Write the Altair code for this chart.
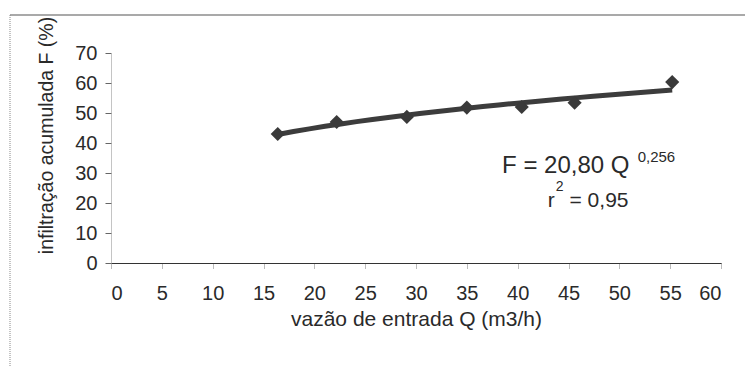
import altair as alt
import pandas as pd

# data
vazao_q = [16.4, 22.2, 29.1, 35.0, 40.4, 45.6, 55.2]
infiltracao_f = [43.0, 47.0, 48.7, 51.8, 52.0, 53.4, 60.3]

x_ticks = list(range(0, 61, 5))
y_ticks = list(range(0, 71, 10))

df = pd.DataFrame({"Q": vazao_q, "F": infiltracao_f})

FONT = "Liberation Sans"
TXT = "#2a2a2a"

x_scale = alt.Scale(domain=[0, 60], nice=False, zero=True)
y_scale = alt.Scale(domain=[0, 70], nice=False)

x_axis = alt.Axis(values=x_ticks, title="vazão de entrada Q (m3/h)",
                  grid=False, labelFontSize=20, titleFontSize=21,
                  labelFont=FONT, titleFont=FONT, labelColor=TXT,
                  titleColor=TXT, titleFontWeight="normal",
                  labelOverlap=False,
                  domainColor="#333", domainWidth=1.2,
                  tickColor="#777", tickDash=[1, 1], tickSize=6,
                  labelPadding=14, titlePadding=5)
y_axis = alt.Axis(values=y_ticks, title="infiltração acumulada F (%)",
                  grid=False, labelFontSize=20, titleFontSize=19.5,
                  labelFont=FONT, titleFont=FONT, labelColor=TXT,
                  titleColor=TXT, titleFontWeight="normal",
                  labelOverlap=False,
                  domainColor="#888", domainDash=[1, 1],
                  tickColor="#666", tickSize=6, labelPadding=8,
                  titleX=-55, titleY=82)

x_enc = alt.X("Q:Q", scale=x_scale, axis=x_axis)
y_enc = alt.Y("F:Q", scale=y_scale, axis=y_axis)


def xd(v):
    return alt.XDatum(v, scale=x_scale, axis=x_axis)


def yd(v):
    return alt.YDatum(v, scale=y_scale, axis=y_axis)


base = alt.Chart(df)

trend = base.transform_regression("Q", "F", method="pow").mark_line(
    color="#3c3c3c", strokeWidth=5
).encode(x=x_enc, y=y_enc)

points = base.mark_point(shape="diamond", filled=True, size=200,
                         color="#3a3a3a", opacity=1).encode(x=x_enc, y=y_enc)

eq_main = alt.Chart().mark_text(text="F = 20,80 Q", font=FONT, fontSize=24,
                                align="right", baseline="alphabetic",
                                color=TXT).encode(x=xd(51.0), y=yd(30.0))
eq_exp = alt.Chart().mark_text(text="0,256", font=FONT, fontSize=15,
                               align="left", baseline="alphabetic",
                               color=TXT).encode(x=xd(51.8), y=yd(33.7))
r_main = alt.Chart().mark_text(text="r", font=FONT, fontSize=21,
                               align="left", baseline="alphabetic",
                               color=TXT).encode(x=xd(42.95), y=yd(18.7))
r_exp = alt.Chart().mark_text(text="2", font=FONT, fontSize=14,
                              align="left", baseline="alphabetic",
                              color=TXT).encode(x=xd(43.75), y=yd(23.9))
r_val = alt.Chart().mark_text(text="= 0,95", font=FONT, fontSize=21,
                              align="left", baseline="alphabetic",
                              color=TXT).encode(x=xd(45.1), y=yd(18.7))

border_top = alt.Chart().mark_rule(color="#555", strokeWidth=1.2).encode(
    x=alt.value(-101), x2=alt.value(634), y=alt.value(-38))
border_left = alt.Chart().mark_rule(color="#888", strokeWidth=1, strokeDash=[1, 1]).encode(
    x=alt.value(-101), y=alt.value(-38), y2=alt.value(313))

chart = alt.layer(trend, points, eq_main, eq_exp, r_main, r_exp, r_val,
                  border_top, border_left).properties(
    width=610, height=210,
    autosize=alt.AutoSizeParams(type="none"),
    padding={"left": 111, "top": 53, "right": 24, "bottom": 103},
    background="white",
).configure_view(stroke=None)

chart.save("out.html", embed_options={"renderer": "svg", "actions": False})
